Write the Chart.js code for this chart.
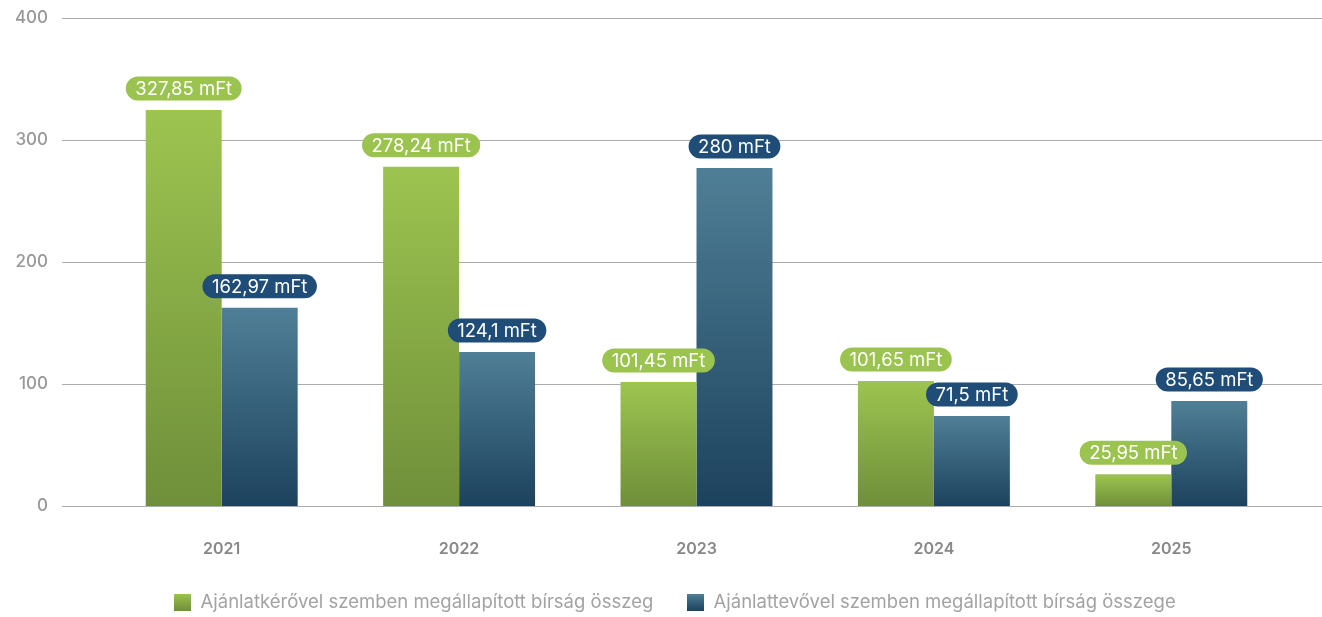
<!DOCTYPE html>
<html>
<head>
<meta charset="utf-8">
<script src="https://cdn.jsdelivr.net/npm/chart.js@4.4.1/dist/chart.umd.min.js"></script>
<style>
  html, body { margin: 0; padding: 0; background: #ffffff; }
  #wrap { position: relative; width: 1322px; height: 617px; }
</style>
</head>
<body>
<div id="wrap"><canvas id="c"></canvas></div>
<script>
const categories = ['2021', '2022', '2023', '2024', '2025'];
const seriesNames = ['Ajánlatkérővel szemben megállapított bírság összeg', 'Ajánlattevővel szemben megállapított bírság összege'];
const greenValues = [324.5, 278, 101.6, 102.5, 26];
const blueValues = [162.4, 126.2, 277, 73.8, 86];
const greenLabels = ['327,85 mFt', '278,24 mFt', '101,45 mFt', '101,65 mFt', '25,95 mFt'];
const blueLabels = ['162,97 mFt', '124,1 mFt', '280 mFt', '71,5 mFt', '85,65 mFt'];
const yTicks = [0, 100, 200, 300, 400];

const GREEN_TOP = '#9dc450', GREEN_BOT = '#6f8f3a';
const BLUE_TOP = '#4f7f96', BLUE_BOT = '#1d425d';
const GREEN_PILL = '#9bc34f', BLUE_PILL = '#1f4d77';
const FONT = 'Inter, "Noto Sans", sans-serif';

function barGradient(top, bot) {
  return function (c) {
    const chart = c.chart;
    if (!chart.chartArea || c.raw === undefined) return top;
    const y = chart.scales.y;
    const y0 = y.getPixelForValue(c.raw);
    const y1 = y.getPixelForValue(0);
    const g = chart.ctx.createLinearGradient(0, y0, 0, y1);
    g.addColorStop(0, top);
    g.addColorStop(1, bot);
    return g;
  };
}

function legendSwatch(top, bot) {
  const cv = document.createElement('canvas');
  cv.width = 17; cv.height = 17;
  const cx = cv.getContext('2d');
  const g = cx.createLinearGradient(0, 0, 0, 17);
  g.addColorStop(0, top); g.addColorStop(1, bot);
  cx.fillStyle = g; cx.fillRect(0, 0, 17, 17);
  return cv;
}
const swatches = [legendSwatch(GREEN_TOP, GREEN_BOT), legendSwatch(BLUE_TOP, BLUE_BOT)];

const layoutPlugin = {
  id: 'legendFix',
  beforeLayout(chart) {
    const lg = chart.legend;
    if (lg && !lg._patched) {
      const f = lg.fit;
      lg.fit = function () { f.call(this); this.height = 58; };
      lg._patched = true;
    }
  },
  afterLayout(chart) {
    const lg = chart.legend;
    if (lg) { lg.left += 30; lg.right += 30; }
  }
};

const gridPlugin = {
  id: 'fullGrid',
  beforeDatasetsDraw(chart) {
    const ctx = chart.ctx, ys = chart.scales.y;
    ctx.save();
    ctx.strokeStyle = '#ababab';
    ctx.lineWidth = 1.2;
    ys.ticks.forEach(t => {
      const py = Math.round(ys.getPixelForValue(t.value)) + 0.5;
      ctx.beginPath();
      ctx.moveTo(62, py);
      ctx.lineTo(1322, py);
      ctx.stroke();
    });
    ctx.restore();
  }
};

const pillPlugin = {
  id: 'pills',
  afterDatasetsDraw(chart) {
    const ctx = chart.ctx;
    ctx.save();
    ctx.font = '400 18.5px ' + FONT;
    ctx.textAlign = 'center';
    ctx.textBaseline = 'middle';
    chart.data.datasets.forEach((ds, i) => {
      const meta = chart.getDatasetMeta(i);
      meta.data.forEach((bar, j) => {
        const text = ds.pillLabels[j];
        const w = ctx.measureText(text).width + 19;
        const h = 24;
        const cx = bar.x, cy = bar.y - 21.5;
        ctx.fillStyle = ds.pillColor;
        ctx.beginPath();
        ctx.roundRect(cx - w / 2, cy - h / 2, w, h, h / 2);
        ctx.fill();
        ctx.fillStyle = '#ffffff';
        ctx.fillText(text, cx, cy + 1);
      });
    });
    ctx.restore();
  }
};

new Chart(document.getElementById('c'), {
  type: 'bar',
  data: {
    labels: categories,
    datasets: [
      { label: seriesNames[0], data: greenValues, backgroundColor: barGradient(GREEN_TOP, GREEN_BOT), borderWidth: 0, pillLabels: greenLabels, pillColor: GREEN_PILL },
      { label: seriesNames[1], data: blueValues, backgroundColor: barGradient(BLUE_TOP, BLUE_BOT), borderWidth: 0, pillLabels: blueLabels, pillColor: BLUE_PILL }
    ]
  },
  options: {
    responsive: true,
    maintainAspectRatio: false,
    animation: false,
    events: [],
    layout: { padding: { top: 18, right: 32, left: 0, bottom: 0 } },
    categoryPercentage: 0.64,
    barPercentage: 1.0,
    scales: {
      x: {
        afterFit(s) { s.height = 53; s.paddingTop = 0; s.paddingBottom = 0; },
        grid: { display: false, drawTicks: false },
        border: { display: false },
        ticks: { color: '#888888', font: { family: FONT, size: 16, weight: '600' }, padding: 34 }
      },
      y: {
        min: 0, max: 400,
        afterFit(s) { s.width = 103; s.paddingTop = 0; s.paddingBottom = 0; },
        afterBuildTicks(s) { s.ticks = yTicks.map(v => ({ value: v })); },
        grid: { display: false, drawTicks: false },
        border: { display: false },
        ticks: { color: '#999999', font: { family: FONT, size: 17, weight: '500' }, padding: 55 }
      }
    },
    plugins: {
      tooltip: { enabled: false },
      legend: {
        position: 'bottom',
        labels: {
          usePointStyle: true,
          pointStyleWidth: 17,
          color: '#a3a3a3',
          font: { family: FONT, size: 18.5 },
          padding: 34,
          generateLabels(chart) {
            return chart.data.datasets.map((ds, i) => ({
              text: ds.label,
              pointStyle: swatches[i],
              fillStyle: 'transparent',
              strokeStyle: 'transparent',
              lineWidth: 0,
              hidden: false,
              datasetIndex: i,
              fontColor: '#a3a3a3'
            }));
          }
        }
      }
    }
  },
  plugins: [layoutPlugin, gridPlugin, pillPlugin]
});
</script>
</body>
</html>
